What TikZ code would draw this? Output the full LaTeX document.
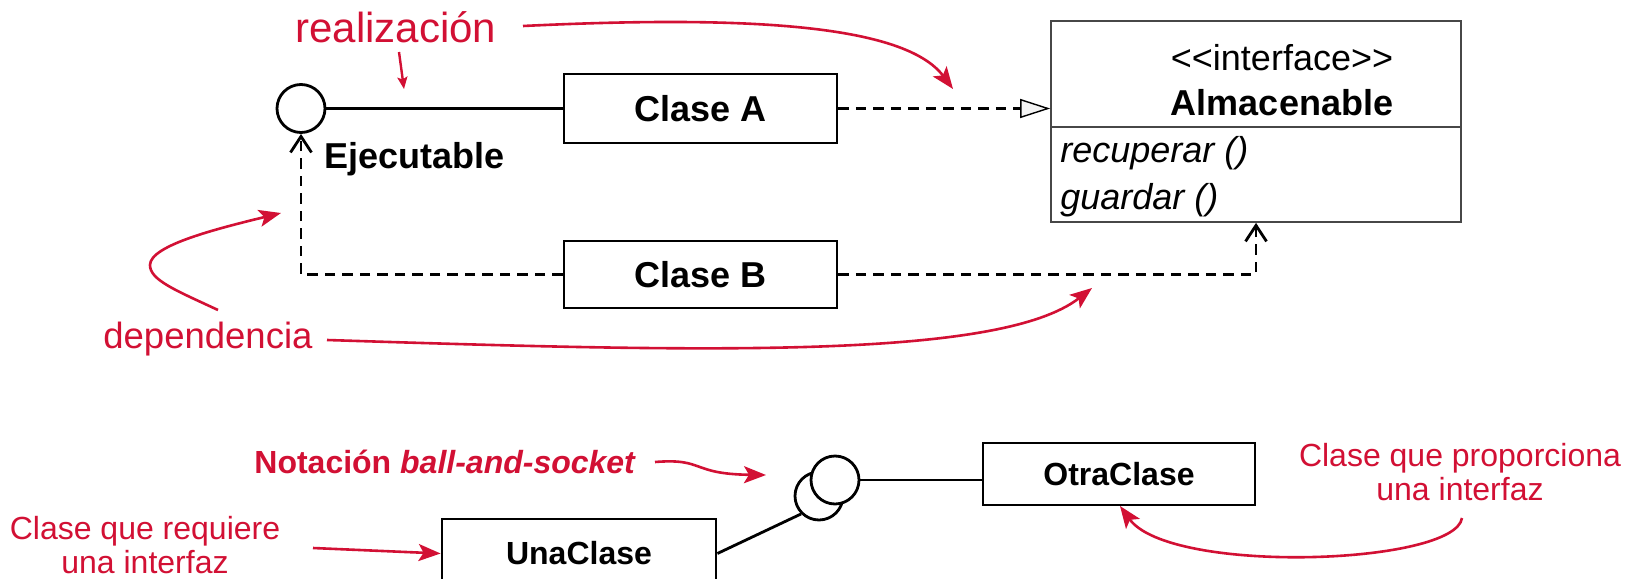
\documentclass[tikz,border=0pt]{standalone}
\usepackage{fontspec}
\setmainfont{Liberation Sans}
\usetikzlibrary{arrows.meta}
\definecolor{umlred}{RGB}{210,16,52}
\definecolor{trifill}{RGB}{244,244,244}
\begin{document}
\begin{tikzpicture}[x=0.5pt,y=-0.5pt,
  cls/.style={draw=black, line width=1.4pt, fill=white, inner sep=0pt, font=\fontsize{18}{20}\selectfont\bfseries},
  cls2/.style={cls, font=\fontsize{16}{18}\selectfont\bfseries},
  ballnode/.style={circle, draw=black, line width=1.4pt, fill=white, minimum size=24pt, inner sep=0pt},
  conn/.style={line width=1.4pt, black},
  dep/.style={conn, dash pattern=on 5.25pt off 3.5pt},
  redarrow/.style={line width=1.3pt, umlred, -{Stealth[length=11pt,width=8.5pt,inset=2.5pt]}},
  redsmall/.style={line width=1.2pt, umlred, -{Stealth[length=6pt,width=5pt,inset=1.2pt]}},
  redlbl/.style={text=umlred, inner sep=0pt},
  txt/.style={inner sep=0pt},
]
\useasboundingbox (0,0) rectangle (1637,578);
\fill[white] (0,0) rectangle (1637,578);

% classes
\node[cls, minimum width=136.5pt, minimum height=34.5pt] (claseA) at (700.5,108.5) {Clase A};
\node[cls, minimum width=136.5pt, minimum height=33.5pt] (claseB) at (700.5,274.5) {Clase B};
\node[ballnode] (ejec) at (301,108.5) {};
\node[txt, font=\fontsize{18}{20}\selectfont\bfseries, anchor=base west] (ejeclbl) at (324,168) {Ejecutable};

% interface box
\node[draw=black!72, line width=0.85pt, minimum width=205pt, minimum height=100.5pt, inner sep=0pt] (alm) at (1256,121.5) {};
\draw[black!72, line width=0.85pt] (1051,127) -- (1461,127);
\node[txt, font=\fontsize{18}{20}\selectfont, anchor=base] (stereo) at (1282,70) {<\kern0pt<interface>\kern0pt>};
\node[txt, font=\fontsize{18}{20}\selectfont\bfseries, anchor=base] (almname) at (1282,115) {Almacenable};
\node[txt, font=\fontsize{18}{20}\selectfont\itshape, anchor=base west] (op1) at (1060,162) {recuperar ()};
\node[txt, font=\fontsize{18}{20}\selectfont\itshape, anchor=base west] (op2) at (1060,209) {guardar ()};

% connectors
\draw[conn] (ejec.east) -- (claseA.west);
\draw[dep, -{Triangle[length=15pt,width=9.5pt,fill=trifill,line width=0.7pt]}] (claseA.east) -- (claseA.east -| alm.west);
\draw[dep, -{Straight Barb[length=8pt,width=10.5pt]}] (claseB.west) -| (ejec.south);
\draw[dep, -{Straight Barb[length=8pt,width=10.5pt]}] (claseB.east) -| (alm.south);

% ball and socket
\node[cls2, minimum width=137pt, minimum height=34.5pt] (una) at (579,553.5) {UnaClase};
\node[cls2, minimum width=136pt, minimum height=31pt] (otra) at (1119,474) {OtraClase};
\node[ballnode] (socket) at (819,496) {};
\node[ballnode] (ball) at (835,480) {};
\draw[conn] (una.east) -- (socket.south west);
\draw[conn] (ball.east) -- (ball.east -| otra.west);

% red labels
\node[redlbl, font=\fontsize{21}{24}\selectfont, anchor=base west] (real) at (295,42) {realización};
\node[redlbl, font=\fontsize{18.25}{20}\selectfont, anchor=base west] (depl) at (103,348) {dependencia};
\node[redlbl, font=\fontsize{16}{18}\selectfont\bfseries, anchor=base west] (bas) at (254,473) {Notación \textit{ball-and-socket}};
\node[redlbl, font=\fontsize{16}{17}\selectfont, align=center, anchor=base] (req) at (145,573) {Clase que requiere\\una interfaz};
\node[redlbl, font=\fontsize{16}{17}\selectfont, align=center, anchor=base] (prov) at (1460,500) {Clase que proporciona\\una interfaz};

% red arrows
\coordinate (a1s) at (399,52);  \coordinate (a1e) at (404,89);
\coordinate (a2s) at (523,26);  \coordinate (a2e) at (953,89);
\coordinate (a3s) at (218,310); \coordinate (a3m) at (150,265); \coordinate (a3e) at (281,213);
\coordinate (a4s) at (327,340); \coordinate (a4e) at (1092,288);
\coordinate (a5s) at (655,462); \coordinate (a5e) at (766,475);
\coordinate (a6s) at (313,548);
\coordinate (a7s) at (1462,518); \coordinate (a7e) at (1120,506);

\draw[redsmall] (a1s) -- (a1e);
\draw[redarrow] (a2s) .. controls (750,15) and (905,25) .. (a2e);
\draw[redarrow] (a3s) .. controls (175,290) and (150,280) .. (a3m) .. controls (150,245) and (220,228) .. (a3e);
\draw[redarrow] (a4s) .. controls (700,352) and (1000,360) .. (a4e);
\draw[redarrow] (a5s) .. controls (705,458) and (690,474) .. (a5e);
\draw[redarrow] (a6s) -- (una.west);
\draw[redarrow] (a7s) .. controls (1455,565) and (1170,575) .. (a7e);
\end{tikzpicture}
\end{document}
